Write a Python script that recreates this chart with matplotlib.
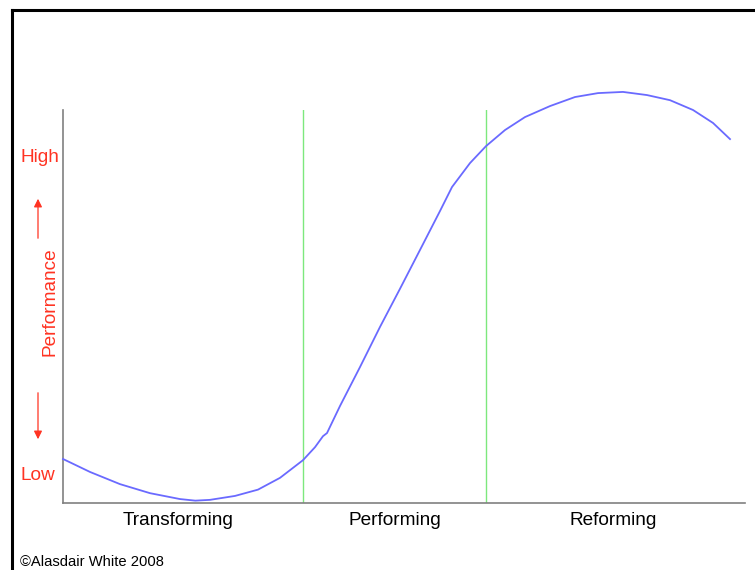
import matplotlib
matplotlib.use('Agg')
import matplotlib.pyplot as plt
from matplotlib.lines import Line2D

plt.rcParams['font.family'] = ['Liberation Sans', 'DejaVu Sans']

# curve (x: 0-100 along the axis, y: 0-100 up to spine top)
curve_x = [0, 3.96, 8.36, 12.76, 17.16, 19.4, 21.55, 25.22, 28.59, 31.82, 35.19, 36.95,
           38.12, 38.71, 40.62, 43.55, 46.48, 49.41, 52.35, 55.28, 57.04, 59.68,
           62.02, 64.81, 67.74, 71.41, 75.07, 78.45, 82.11, 85.63, 89.0, 92.38,
           95.31, 97.8]
curve_y = [11.2, 7.9, 4.8, 2.5, 1.0, 0.6, 0.8, 1.8, 3.4, 6.4, 10.9, 14.2,
           17.0, 17.8, 24.7, 34.6, 44.8, 54.5, 64.4, 74.3, 80.4, 86.5,
           90.8, 94.9, 98.2, 101.0, 103.3, 104.3, 104.6, 103.8, 102.5, 100.0,
           96.7, 92.6]
phase_bounds = [35.2, 62.0]
phase_pos = [16.9, 48.7, 80.6]
phase_labels = ['Transforming', 'Performing', 'Reforming']

fig = plt.figure(figsize=(7.55, 5.7), dpi=100)
ax = fig.add_axes([63/755, 67/570, 682/755, 393/570])

ax.plot(curve_x, curve_y, color='#6a6aff', lw=1.3, clip_on=False, zorder=3)
for b in phase_bounds:
    ax.axvline(b, color='#7de87d', lw=1)

ax.set_xlim(0, 100)
ax.set_ylim(0, 100)
for s in ['top', 'right']:
    ax.spines[s].set_visible(False)
for s in ['left', 'bottom']:
    ax.spines[s].set_color('#808080')
    ax.spines[s].set_linewidth(1.2)
ax.set_yticks([])
ax.set_xticks(phase_pos)
ax.set_xticklabels(phase_labels, fontsize=13.7)
ax.tick_params(axis='x', length=0, pad=6.5)

red = '#ff3322'
fig.text(40/755, 1 - 158/570, 'High', color=red, fontsize=13.7, ha='center', va='center')
fig.text(38/755, 1 - 475/570, 'Low', color=red, fontsize=13.7, ha='center', va='center')
fig.text(50/755, 1 - 302/570, 'Performance', color=red, fontsize=13.7, rotation=90,
         ha='center', va='center')
fig.text(20/755, 1 - 562/570, '\u00a9Alasdair White 2008', fontsize=10.6, ha='left', va='center')

# red arrows
arrow = dict(arrowstyle='-|>', color=red, lw=0.9, mutation_scale=12)
fig.add_artist(matplotlib.patches.FancyArrowPatch((38/755, 1 - 241/570), (38/755, 1 - 196/570),
                                                  transform=fig.transFigure, **arrow))
fig.add_artist(matplotlib.patches.FancyArrowPatch((38/755, 1 - 390/570), (38/755, 1 - 442/570),
                                                  transform=fig.transFigure, **arrow))

# black frame (top and left)
fig.add_artist(Line2D([12/755, 1], [1 - 10/570, 1 - 10/570], color='black', lw=2.2,
                      transform=fig.transFigure))
fig.add_artist(Line2D([12/755, 12/755], [0, 1 - 10/570], color='black', lw=2.2,
                      transform=fig.transFigure))

fig.savefig('out.png', dpi=100)
